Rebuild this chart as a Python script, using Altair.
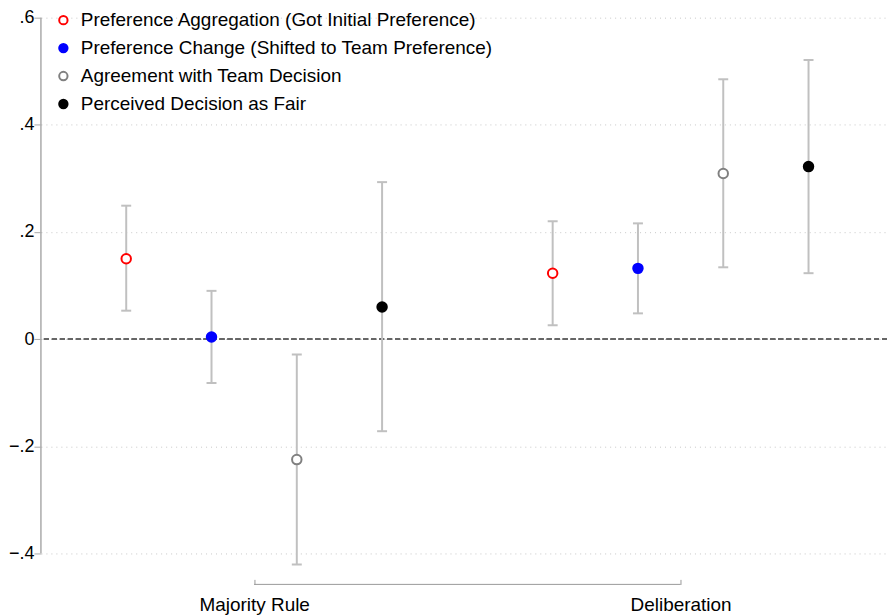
import altair as alt
import pandas as pd

groups = ["Majority Rule", "Deliberation"]
series = [
    "Preference Aggregation (Got Initial Preference)",
    "Preference Change (Shifted to Team Preference)",
    "Agreement with Team Decision",
    "Perceived Decision as Fair",
]
stroke_colors = ["#ff0000", "#0000ff", "#808080", "#000000"]
fill_colors = ["#ffffff", "#0000ff", "#ffffff", "#000000"]

estimates = [0.150, 0.004, -0.225, 0.060, 0.123, 0.132, 0.309, 0.322]
lower = [0.053, -0.082, -0.421, -0.172, 0.026, 0.048, 0.134, 0.123]
upper = [0.249, 0.090, -0.029, 0.293, 0.220, 0.216, 0.485, 0.521]

y_ticks = [-0.4, -0.2, 0, 0.2, 0.4, 0.6]

rows = []
for gi, g in enumerate(groups):
    for si, s in enumerate(series):
        i = gi * len(series) + si
        rows.append({"group": g, "series": s, "pos": gi * 5 + si + 1,
                     "est": estimates[i], "lo": lower[i], "hi": upper[i]})
df = pd.DataFrame(rows)
centers = [gi * 5 + 2.5 for gi in range(len(groups))]
br = pd.DataFrame({"a": [centers[0]], "b": [centers[-1]]})

FONT = "Liberation Sans"
W, H = 848, 553

xscale = alt.Scale(domain=[0, 9.92], nice=False, zero=False)
yscale = alt.Scale(domain=[-0.43, 0.6], nice=False, zero=False)

label_expr = " : ".join(
    [f"datum.value == {c} ? '{g}'" for c, g in zip(centers, groups)]) + " : ''"

x_axis = alt.Axis(values=centers, labelExpr=label_expr, title=None, domain=False,
                  grid=False, offset=10, tickSize=5, tickColor="#999999", tickWidth=1,
                  labelPadding=11, labelFontSize=19, labelFont=FONT, labelColor="#000000")
y_axis = alt.Axis(values=y_ticks, title=None, domain=False, grid=True,
                  gridDash=[1, 4], gridColor="#c8c8c8", gridWidth=1,
                  tickSize=7, tickColor="#aaaaaa", tickWidth=1, labelPadding=0,
                  labelFontSize=18, labelFont=FONT, labelColor="#000000",
                  labelExpr="datum.value == 0 ? '0' : replace(format(datum.value, '.1f'), '0.', '.')")

base = alt.Chart(df)

axes = base.mark_point(opacity=0).encode(
    x=alt.X("pos:Q", scale=xscale, axis=x_axis),
    y=alt.Y("est:Q", scale=yscale, axis=y_axis),
)

zero = alt.Chart(df).mark_rule(strokeDash=[5, 3], color="#666666", strokeWidth=1).encode(
    y=alt.datum(0, scale=yscale))

yline = alt.Chart(br).mark_rule(color="#aaaaaa", strokeWidth=1.5).encode(
    x=alt.value(0), y=alt.datum(y_ticks[0]), y2=alt.datum(y_ticks[-1]))

bars = base.mark_rule(color="#c0c0c0", strokeWidth=2).encode(
    x=alt.X("pos:Q", scale=xscale), y=alt.Y("lo:Q", scale=yscale), y2="hi:Q")

caps_lo = base.mark_tick(color="#c0c0c0", thickness=2, size=10, orient="horizontal", opacity=1).encode(
    x=alt.X("pos:Q", scale=xscale), y=alt.Y("lo:Q", scale=yscale))
caps_hi = base.mark_tick(color="#c0c0c0", thickness=2, size=10, orient="horizontal", opacity=1).encode(
    x=alt.X("pos:Q", scale=xscale), y=alt.Y("hi:Q", scale=yscale))

legend = alt.Legend(title=None, orient="none", legendX=13, legendY=-7,
                    labelFont=FONT, labelFontSize=19, labelColor="#000000",
                    symbolType="circle", symbolSize=70, symbolStrokeWidth=2,
                    rowPadding=8, labelOffset=8, labelLimit=700)

points = base.mark_point(size=90, strokeWidth=2, opacity=1, filled=False).encode(
    x=alt.X("pos:Q", scale=xscale),
    y=alt.Y("est:Q", scale=yscale),
    stroke=alt.Stroke("series:N", scale=alt.Scale(domain=series, range=stroke_colors), legend=legend),
    fill=alt.Fill("series:N", scale=alt.Scale(domain=series, range=fill_colors), legend=legend),
)

bracket = alt.Chart(br).mark_rule(color="#999999", strokeWidth=1).encode(
    x=alt.X("a:Q", scale=xscale), x2="b:Q", y=alt.value(H + 15))

chart = alt.layer(axes, zero, yline, bars, caps_lo, caps_hi, points, bracket).properties(
    width=W, height=H, padding=0
).configure_view(stroke=None)

chart.save("out.html", embed_options={"renderer": "svg", "actions": False})
